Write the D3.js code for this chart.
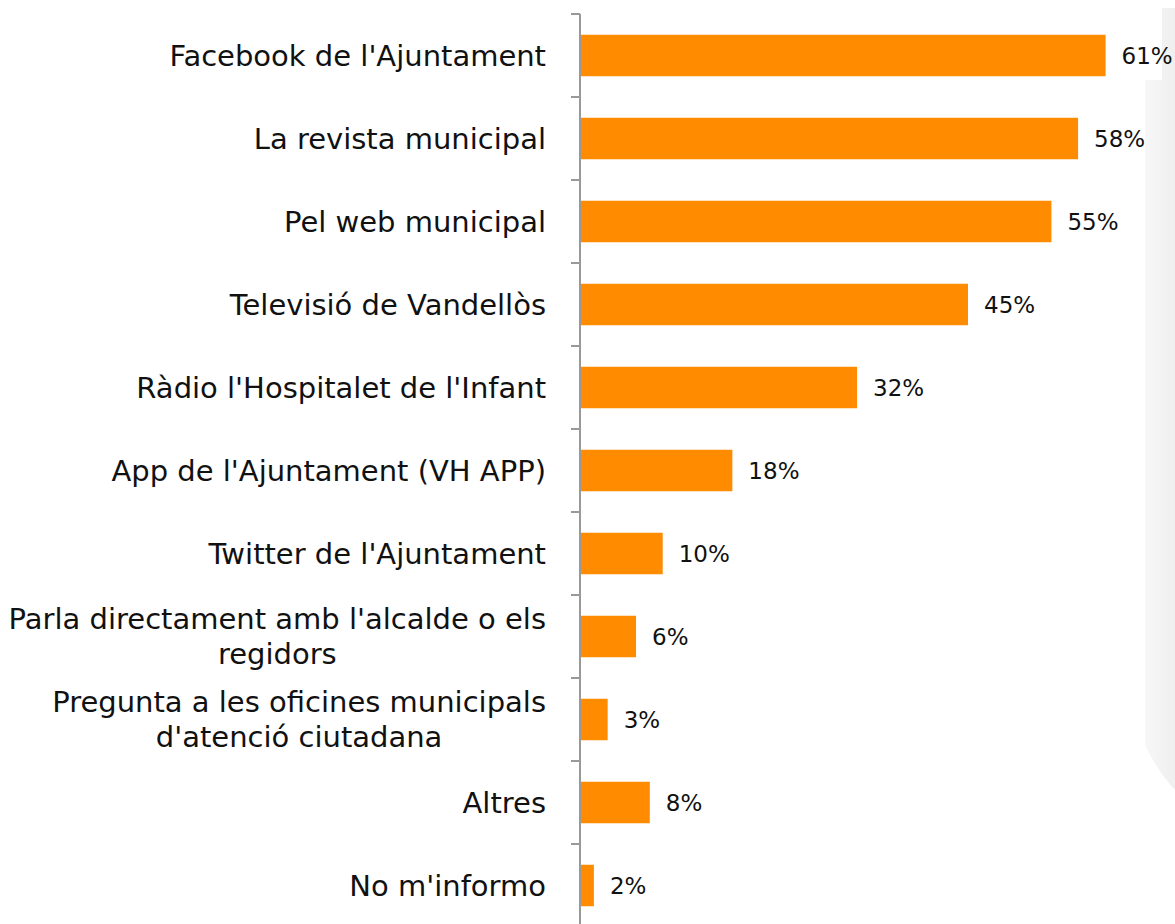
<!DOCTYPE html>
<html>
<head>
<meta charset="utf-8">
<script src="https://cdn.jsdelivr.net/npm/d3@7"></script>
<style>
  html, body { margin: 0; padding: 0; background: #ffffff; }
  svg { display: block; }
</style>
</head>
<body>
<div id="chart"></div>
<script>
// ---- data ----
const categories = [
  "Facebook de l'Ajuntament",
  "La revista municipal",
  "Pel web municipal",
  "Televisió de Vandellòs",
  "Ràdio l'Hospitalet de l'Infant",
  "App de l'Ajuntament (VH APP)",
  "Twitter de l'Ajuntament",
  "Parla directament amb l'alcalde o els\nregidors",
  "Pregunta a les oficines municipals\nd'atenció ciutadana",
  "Altres",
  "No m'informo"
];
const values = [61, 57.8, 54.7, 45, 32.1, 17.6, 9.5, 6.4, 3.1, 8, 1.5];

// ---- layout ----
const W = 1175, H = 924;
const axisX = 580;
const barColor = "#FF8C00";

const svg = d3.select("#chart").append("svg")
  .attr("width", W).attr("height", H);

// decorative slide shadow on the right edge
const defs = svg.append("defs");
const grad = defs.append("linearGradient").attr("id", "shadow")
  .attr("x1", "0").attr("x2", "1").attr("y1", "0").attr("y2", "0");
grad.append("stop").attr("offset", "0%").attr("stop-color", "#f7f7f7");
grad.append("stop").attr("offset", "100%").attr("stop-color", "#efefef");
svg.append("path")
  .attr("d", "M1162,8 L1175,8 L1175,790 Q1158,772 1145,745 L1145,80 L1162,80 Z")
  .attr("fill", "url(#shadow)");

const x = d3.scaleLinear().domain([0, 70]).range([axisX + 1, axisX + 1 + 602]);
const y = d3.scaleBand().domain(categories).range([14, 927])
  .paddingInner(0.5).paddingOuter(0.25);

// bars
svg.append("g").selectAll("rect").data(categories).join("rect")
  .attr("x", x(0))
  .attr("y", d => y(d))
  .attr("width", (d, i) => x(values[i]) - x(0))
  .attr("height", y.bandwidth())
  .attr("fill", barColor);

// axis line + ticks at band boundaries
const step = y.step();
const gap = step - y.bandwidth();
const tickYs = categories.map(c => y(c) - gap / 2);
tickYs.push(y(categories[categories.length - 1]) + y.bandwidth() + gap / 2);
const axisG = svg.append("g").attr("stroke", "#999").attr("stroke-width", 2);
axisG.append("line")
  .attr("x1", axisX).attr("x2", axisX)
  .attr("y1", tickYs[0]).attr("y2", H + 5);
axisG.selectAll("line.tick").data(tickYs).join("line")
  .attr("class", "tick")
  .attr("x1", axisX - 9).attr("x2", axisX)
  .attr("y1", d => d).attr("y2", d => d);

// category labels
const lineH = 35;
const labG = svg.append("g")
  .attr("font-family", "'DejaVu Sans', sans-serif")
  .attr("font-size", 29)
  .attr("fill", "#111");
categories.forEach(c => {
  const lines = c.split("\n");
  const cy = y(c) + y.bandwidth() / 2;
  const t = labG.append("text").attr("y", cy);
  if (lines.length === 1) {
    t.attr("x", 546).attr("text-anchor", "end").attr("dy", "0.36em").text(lines[0]);
  } else {
    // centre lines against each other, block right-aligned
    const tmp = lines.map(l => {
      const s = labG.append("text").text(l);
      const w = s.node().getComputedTextLength();
      s.remove();
      return w;
    });
    const maxW = d3.max(tmp);
    const cx = 546 - maxW / 2;
    t.attr("text-anchor", "middle");
    lines.forEach((l, k) => {
      t.append("tspan")
        .attr("x", cx)
        .attr("y", cy + (k - (lines.length - 1) / 2) * lineH)
        .attr("dy", "0.36em")
        .text(l);
    });
  }
});

// value labels
svg.append("g")
  .attr("font-family", "'DejaVu Sans', sans-serif")
  .attr("font-size", 23)
  .attr("fill", "#111")
  .selectAll("text").data(categories).join("text")
  .attr("x", (d, i) => x(values[i]) + 16)
  .attr("y", d => y(d) + y.bandwidth() / 2)
  .attr("dy", "0.36em")
  .text((d, i) => Math.round(values[i]) + "%");
</script>
</body>
</html>
